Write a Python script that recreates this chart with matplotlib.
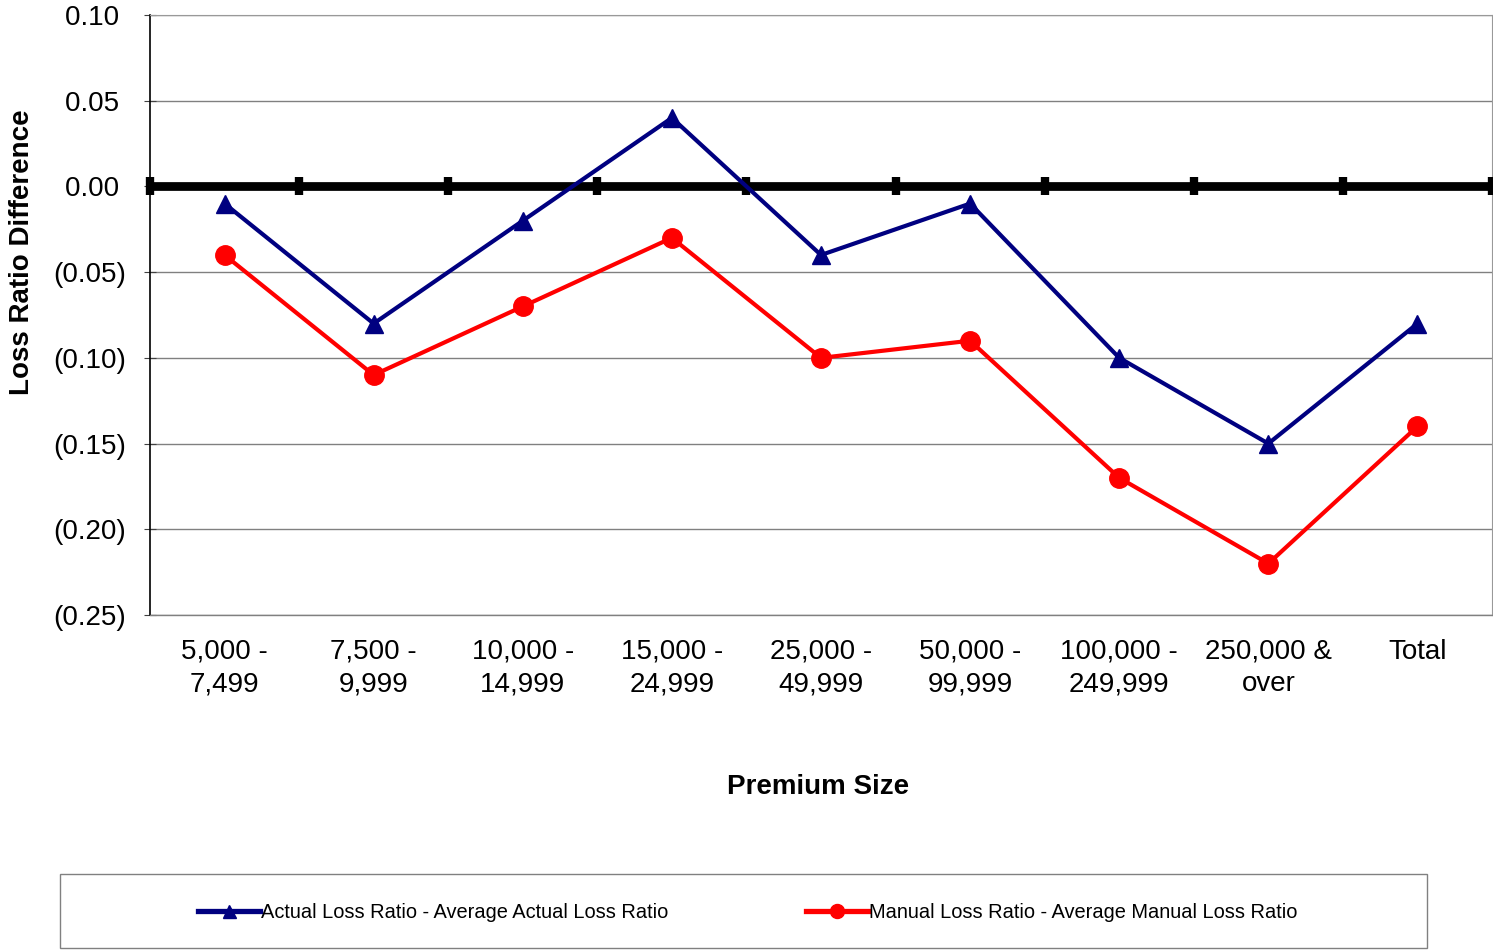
import matplotlib
matplotlib.use("Agg")
import matplotlib.pyplot as plt
from matplotlib.patches import Rectangle
from matplotlib.ticker import FuncFormatter

plt.rcParams['font.family'] = ['Liberation Sans', 'DejaVu Sans']

categories = ["5,000 -\n7,499", "7,500 -\n9,999", "10,000 -\n14,999", "15,000 -\n24,999",
              "25,000 -\n49,999", "50,000 -\n99,999", "100,000 -\n249,999", "250,000 &\nover", "Total"]
actual_diff = [-0.01, -0.08, -0.02, 0.04, -0.04, -0.01, -0.10, -0.15, -0.08]
manual_diff = [-0.04, -0.11, -0.07, -0.03, -0.10, -0.09, -0.17, -0.22, -0.14]
actual_label = "Actual Loss Ratio - Average Actual Loss Ratio"
manual_label = "Manual Loss Ratio - Average Manual Loss Ratio"
y_ticks = [0.10, 0.05, 0.00, -0.05, -0.10, -0.15, -0.20, -0.25]

W, H = 1493, 950
fig = plt.figure(figsize=(W / 100, H / 100), dpi=100)
ax = fig.add_axes([150 / W, 1 - 615 / H, (1492 - 150) / W, (615 - 15) / H])

n = len(categories)
x = list(range(n))
ax.set_xlim(-0.5, n - 0.5)
ax.set_ylim(-0.25, 0.10)
ax.set_yticks(y_ticks)
ax.yaxis.grid(True, color='#808080', lw=1)
ax.set_axisbelow(True)

def fmt(v, pos):
    if abs(v) < 1e-9:
        return "0.00 "
    return f"{v:.2f} " if v > 0 else f"({abs(v):.2f})"
ax.yaxis.set_major_formatter(FuncFormatter(fmt))

# zero (category) axis with boundary ticks
bounds = [i - 0.5 for i in range(n + 1)]
ax.plot([-0.5, n - 0.5], [0, 0], color='black', lw=6.3, zorder=3, solid_capstyle='butt', clip_on=False)
ax.plot(bounds, [0] * len(bounds), ls='none', marker='|', ms=12.5, mew=6, color='black', zorder=3, clip_on=False)

ax.plot(x, actual_diff, color='#000080', lw=3, marker='^', ms=13, zorder=4, label=actual_label)
ax.plot(x, manual_diff, color='#FF0000', lw=3, marker='o', ms=14, zorder=4, label=manual_label)

ax.set_xticks(x)
ax.set_xticklabels(categories, fontsize=20, linespacing=1.32)
ax.tick_params(axis='x', length=0, pad=17)
ax.tick_params(axis='y', direction='inout', length=8, color='#404040', labelsize=20, pad=13)

for s in ['top', 'right']:
    ax.spines[s].set_color('#999999')
ax.spines['bottom'].set_color('#808080')
ax.spines['bottom'].set_linewidth(1)
ax.spines['left'].set_color('black')
ax.spines['left'].set_linewidth(1.2)

fig.text(22 / W, 1 - 252 / H, "Loss Ratio Difference", rotation=90, fontsize=20,
         fontweight='bold', ha='center', va='center')
fig.text(818 / W, 1 - 787 / H, "Premium Size", fontsize=20, fontweight='bold',
         ha='center', va='center')

fig.patches.append(Rectangle((60 / W, 1 - 948 / H), (1427 - 60) / W, (948 - 874) / H,
                             transform=fig.transFigure, fill=False, edgecolor='#808080', lw=1))
h, l = ax.get_legend_handles_labels()
leg = fig.legend(h, l, loc='center', bbox_to_anchor=(748 / W, 1 - 912 / H), ncol=2,
                 frameon=False, fontsize=14.4, handlelength=3.1, handletextpad=0.05,
                 columnspacing=6.9, markerscale=0.72)
for line in leg.get_lines():
    line.set_linewidth(3.8)

fig.savefig("out.png", dpi=100)
